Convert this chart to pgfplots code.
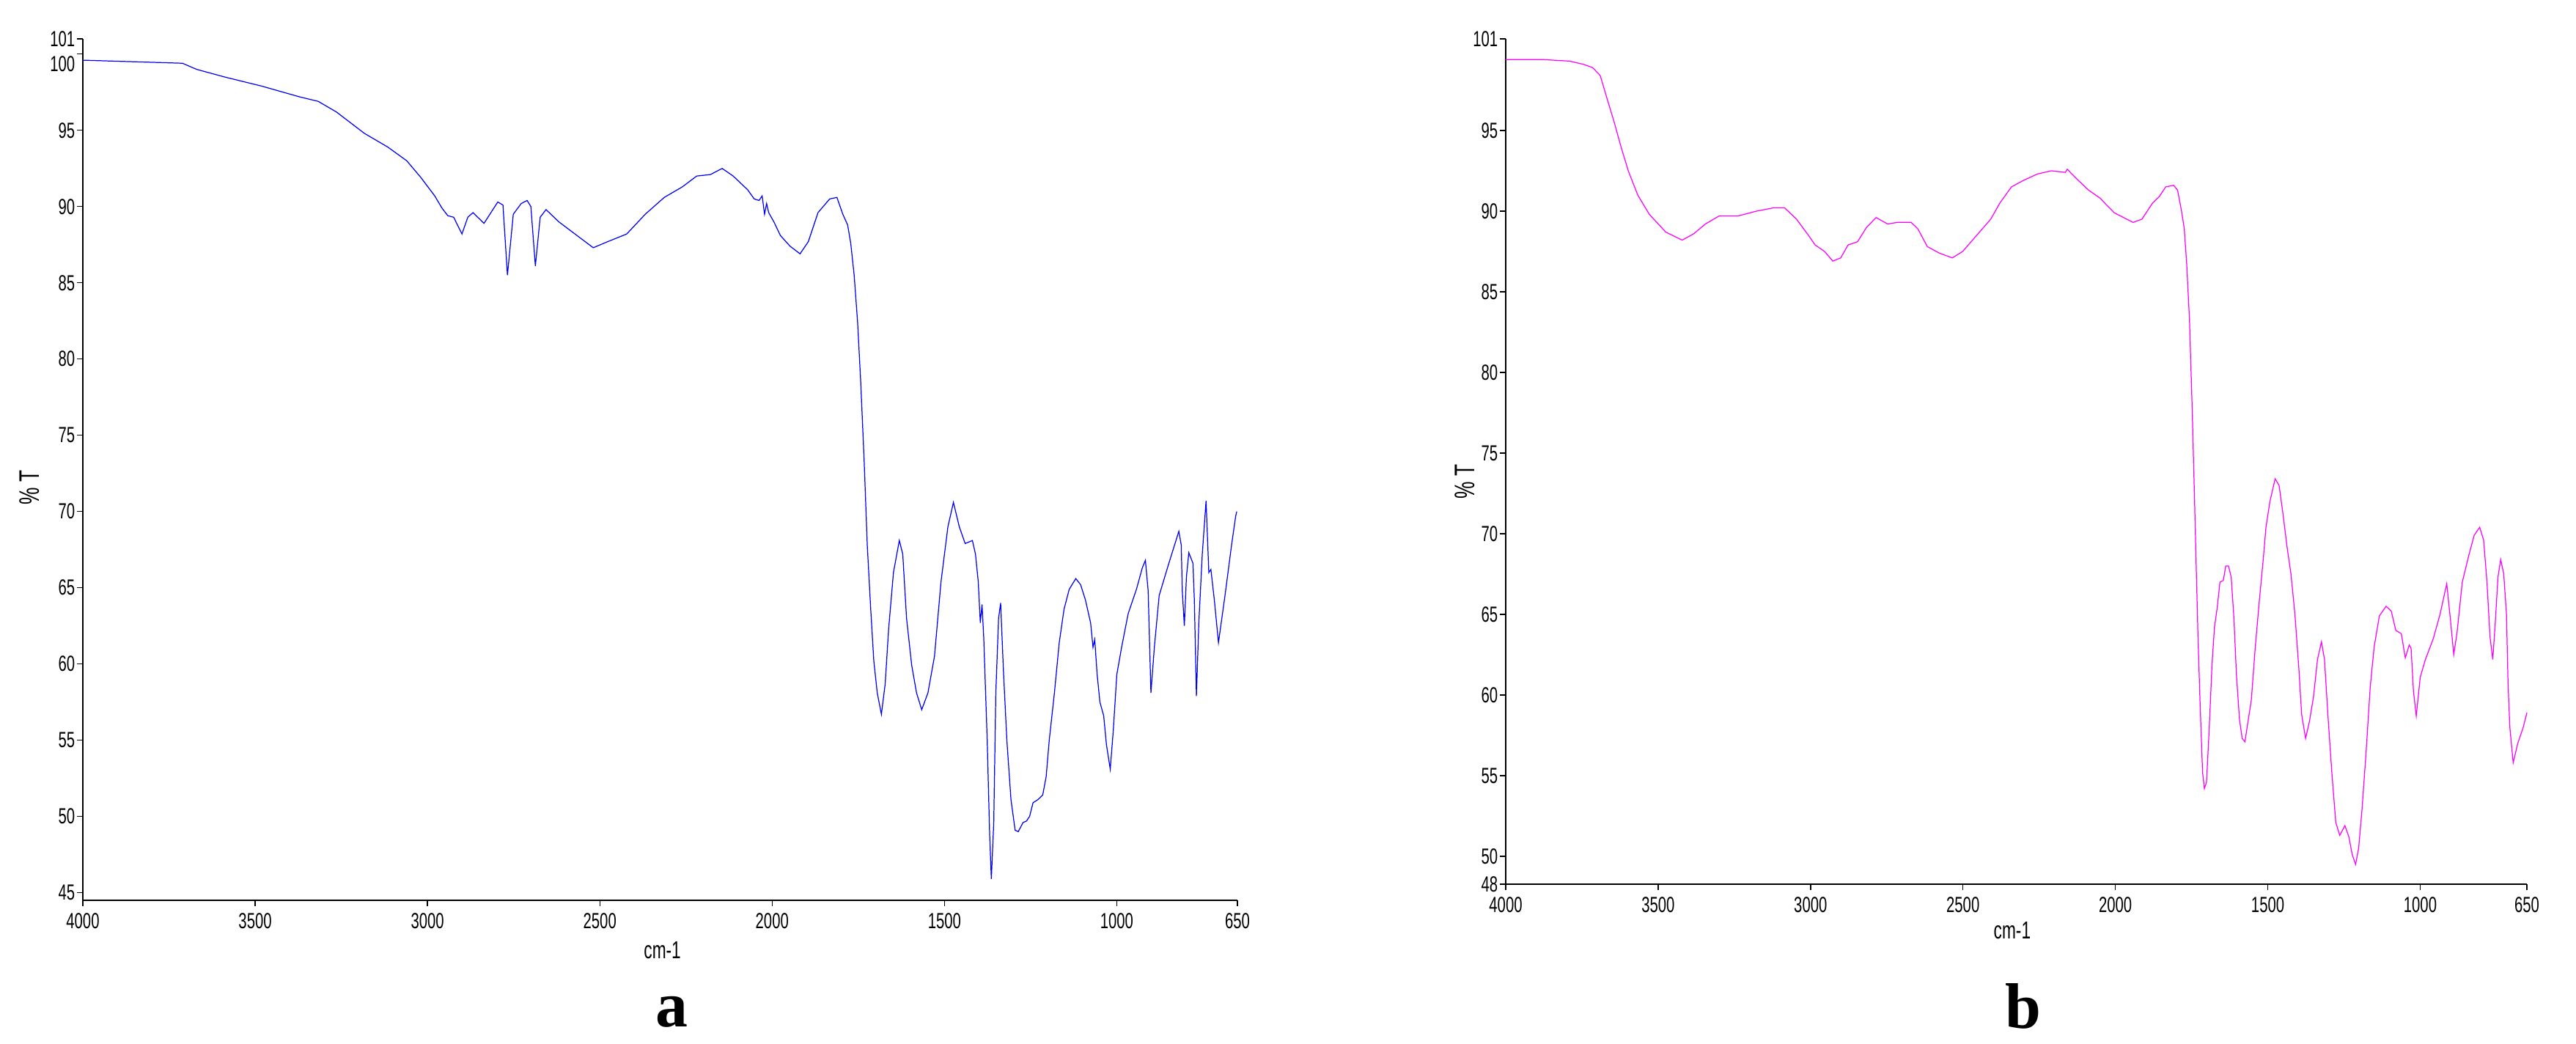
\documentclass[border=0pt]{standalone}
\usepackage{fontspec}
\usepackage{pgfplots}
\pgfplotsset{compat=1.18}
\newfontfamily\narrow[FakeStretch=0.68]{Liberation Sans}
\newfontfamily\lser{Liberation Serif}
\definecolor{irblue}{RGB}{0,0,255}
\definecolor{irmag}{RGB}{255,0,255}

\pgfplotsset{
  irstyle/.style={
    scale only axis,
    axis x line=bottom, axis y line=left,
    axis line style={-, line width=0.45pt},
    x dir=reverse, xmin=650, xmax=4000,
    xtick={4000,3500,3000,2500,2000,1500,1000,650},
    tick align=outside, major tick length=0.08cm,
    tick style={black, line width=0.4pt},
    /pgf/number format/assume math mode=true,
    /pgf/number format/1000 sep={},
    ticklabel style={font=\narrow\fontsize{8.5}{9}\selectfont},
    xticklabel style={inner sep=2.4pt},
    yticklabel style={inner sep=0.6pt},
    clip=false,
  },
}

\begin{document}
\begin{tikzpicture}[x=1cm,y=1cm]
\useasboundingbox (0,0) rectangle (35.14,14.23);

% panel a
\begin{axis}[irstyle,
  at={(1.13cm,1.95cm)}, anchor=south west,
  width=15.75cm, height=11.75cm,
  ymin=44.5, ymax=101,
  ytick={45,50,55,60,65,70,75,80,85,90,95,101},
  extra y ticks={100},
  extra y tick style={yticklabel style={yshift=-0.13cm}},
  xlabel={cm-1}, ylabel={\% T},
  every axis x label/.style={at={(axis description cs:0.502,-0.058)},anchor=center,
    font=\narrow\fontsize{9.5}{10}\selectfont},
  every axis y label/.style={at={(axis description cs:-0.046,0.479)},rotate=90,anchor=center,
    font=\narrow\fontsize{11}{12}\selectfont},
]
\addplot[irblue, line width=0.35pt] coordinates {
(4000,99.6) (3711,99.4) (3670,99.0) (3589,98.5) (3481,97.9) (3372,97.2) (3317,96.9)
(3264,96.2) (3183,94.8) (3115,93.9) (3060,93.0) (3019,91.9) (2979,90.7) (2958,89.9)
(2941,89.4) (2924,89.3) (2900,88.2) (2883,89.3) (2868,89.6) (2836,88.9) (2796,90.3)
(2781,90.1) (2768,85.5) (2751,89.5) (2728,90.2) (2711,90.4) (2700,90.0) (2687,86.1)
(2673,89.3) (2656,89.8) (2619,89.0) (2572,88.2) (2519,87.3) (2477,87.7) (2422,88.2)
(2368,89.5) (2313,90.6) (2260,91.3) (2219,92.0) (2179,92.1) (2145,92.5) (2113,92.0)
(2071,91.1) (2052,90.5) (2038,90.4) (2029,90.7) (2022,89.5) (2016,90.2) (2010,89.6)
(1995,89.0) (1976,88.1) (1948,87.4) (1919,86.9) (1895,87.7) (1867,89.6) (1833,90.5)
(1812,90.6) (1795,89.5) (1781,88.8) (1772,87.6) (1762,85.5) (1752,82.4) (1743,78.5)
(1733,73.3) (1724,67.8) (1714,63.6) (1705,60.2) (1695,58.1) (1683,56.7) (1672,58.7)
(1662,62.3) (1648,66.0) (1631,68.1) (1621,67.2) (1610,63.0) (1595,59.9) (1581,58.1)
(1566,57.0) (1548,58.1) (1529,60.5) (1510,65.4) (1490,69.0) (1474,70.6) (1457,69.0)
(1440,67.9) (1429,68.0) (1419,68.1) (1410,67.2) (1402,65.4) (1396,62.7) (1391,63.9)
(1386,61.7) (1376,55.0) (1369,48.9) (1364,45.9) (1357,49.6) (1351,58.1) (1343,63.0)
(1337,64.0) (1329,59.6) (1319,55.0) (1307,51.1) (1295,49.1) (1286,49.0) (1272,49.6)
(1262,49.7) (1253,50.0) (1243,50.9) (1229,51.1) (1215,51.4) (1205,52.6) (1196,55.0)
(1181,58.1) (1167,61.4) (1153,63.6) (1138,64.9) (1119,65.6) (1105,65.2) (1091,64.2)
(1076,62.7) (1069,61.1) (1064,61.6) (1057,59.3) (1049,57.5) (1038,56.6) (1030,54.7)
(1019,53.1) (1010,55.7) (1000,59.3) (986,61.1) (967,63.3) (943,64.9) (926,66.3)
(917,66.8) (909,64.8) (901,58.1) (891,61.1) (877,64.5) (849,66.6) (820,68.7)
(813,67.8) (810,64.8) (804,62.5) (798,65.7) (791,67.3) (779,66.6) (775,64.2)
(769,57.9) (762,62.7) (752,67.2) (741,70.7) (733,66.0) (727,66.2) (717,64.2)
(705,61.4) (686,64.5) (667,67.8) (655,69.7) (652,70.0)
};
\end{axis}

% panel b
\begin{axis}[irstyle,
  at={(20.54cm,2.17cm)}, anchor=south west,
  width=13.93cm, height=11.53cm,
  ymin=48.27, ymax=100.68,
  ytick={48.27,50,55,60,65,70,75,80,85,90,95,100.68},
  yticklabels={48,50,55,60,65,70,75,80,85,90,95,101},
  xlabel={cm-1}, ylabel={\% T},
  every axis x label/.style={at={(axis description cs:0.496,-0.055)},anchor=center,
    font=\narrow\fontsize{9.5}{10}\selectfont},
  every axis y label/.style={at={(axis description cs:-0.040,0.476)},rotate=90,anchor=center,
    font=\narrow\fontsize{11}{12}\selectfont},
]
\addplot[irmag, line width=0.35pt] coordinates {
(4000,99.4) (3882,99.4) (3791,99.3) (3745,99.1) (3715,98.9) (3690,98.4) (3668,97.0)
(3644,95.5) (3622,94.0) (3598,92.5) (3567,91.0) (3529,89.8) (3475,88.7) (3421,88.2)
(3383,88.6) (3345,89.2) (3300,89.7) (3238,89.7) (3177,90.0) (3122,90.2) (3085,90.2)
(3046,89.5) (3007,88.5) (2985,87.9) (2954,87.5) (2927,86.9) (2901,87.1) (2877,87.9)
(2846,88.1) (2816,89.0) (2785,89.6) (2747,89.2) (2716,89.3) (2670,89.3) (2648,88.9)
(2617,87.8) (2578,87.4) (2535,87.1) (2501,87.5) (2455,88.5) (2409,89.5) (2379,90.5)
(2341,91.5) (2302,91.9) (2256,92.3) (2210,92.5) (2164,92.4) (2158,92.6) (2127,92.0)
(2088,91.3) (2050,90.8) (2030,90.4) (2004,89.9) (1973,89.6) (1942,89.3) (1913,89.5)
(1878,90.5) (1856,90.9) (1835,91.5) (1809,91.6) (1796,91.3) (1783,90.0) (1774,88.9)
(1766,86.7) (1757,83.3) (1748,77.7) (1741,72.6) (1735,68.1) (1729,63.6) (1722,59.4)
(1714,55.2) (1708,54.2) (1701,54.6) (1692,58.0) (1683,61.9) (1675,64.2) (1666,65.4)
(1657,67.0) (1646,67.1) (1638,68.0) (1629,68.0) (1620,67.3) (1611,64.7) (1603,61.3)
(1593,58.5) (1584,57.3) (1575,57.1) (1567,58.1) (1554,59.7) (1541,63.0) (1528,65.8)
(1515,68.4) (1506,70.4) (1493,72.0) (1476,73.4) (1463,73.0) (1450,71.2) (1437,69.2)
(1424,67.5) (1411,65.0) (1398,61.6) (1389,58.8) (1376,57.3) (1363,58.4) (1350,59.9)
(1337,62.2) (1324,63.3) (1314,62.2) (1303,58.8) (1290,55.2) (1277,52.1) (1264,51.3)
(1247,51.9) (1234,51.2) (1223,50.1) (1212,49.5) (1202,50.5) (1191,52.9) (1177,56.6)
(1164,60.5) (1151,63.0) (1134,64.9) (1112,65.5) (1095,65.2) (1080,64.0) (1062,63.8)
(1049,62.3) (1036,63.1) (1030,62.9) (1022,60.2) (1013,58.7) (1000,61.1) (983,62.2)
(957,63.5) (935,65.0) (913,66.9) (901,64.7) (890,62.5) (879,63.9) (862,67.0)
(840,68.7) (823,69.9) (805,70.4) (792,69.6) (781,67.0) (771,63.6) (762,62.2)
(754,64.4) (745,67.3) (736,68.4) (726,67.5) (717,65.0) (712,60.8) (706,58.0)
(695,55.8) (680,57.0) (662,58.0) (650,58.9)
};
\end{axis}

\node[anchor=base] at (9.16,0.23) {\lser\bfseries\fontsize{25}{28}\selectfont a};
\node[anchor=base] at (27.60,0.21) {\lser\bfseries\fontsize{25}{28}\selectfont b};
\end{tikzpicture}
\end{document}
